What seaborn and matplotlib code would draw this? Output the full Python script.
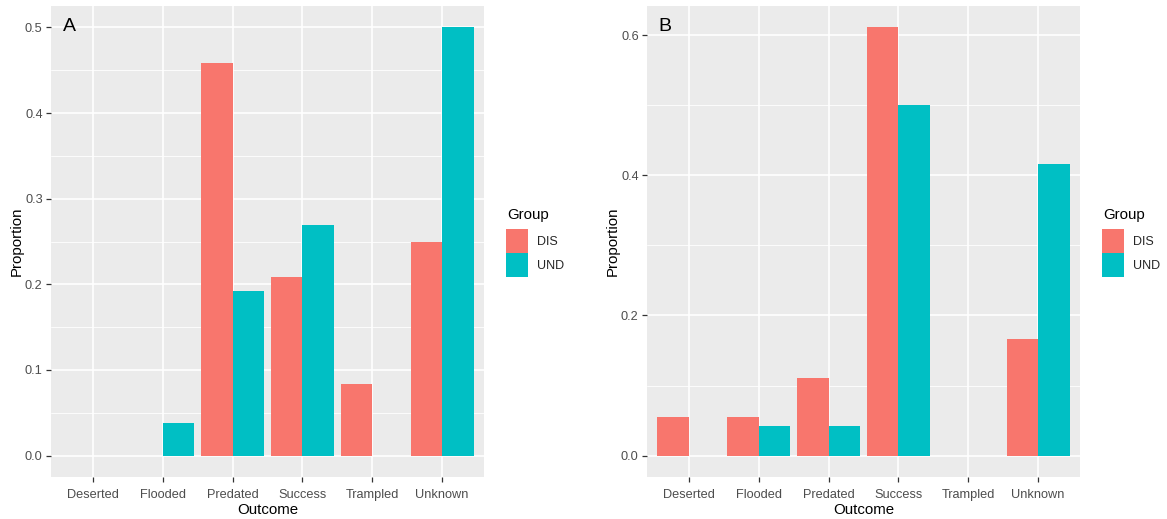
import matplotlib
matplotlib.use("Agg")
import matplotlib.pyplot as plt
from matplotlib.patches import Patch
import numpy as np
import pandas as pd
import seaborn as sns

# Nest outcome proportions by group for two sites
outcomes = ["Deserted", "Flooded", "Predated", "Success", "Trampled", "Unknown"]
groups = ["DIS", "UND"]

site_a_dis = [0.0, 0.0, 11 / 24, 5 / 24, 2 / 24, 6 / 24]
site_a_und = [0.0, 1 / 26, 5 / 26, 7 / 26, 0.0, 13 / 26]

site_b_dis = [1 / 18, 1 / 18, 2 / 18, 11 / 18, 0.0, 3 / 18]
site_b_und = [0.0, 1 / 24, 1 / 24, 12 / 24, 0.0, 10 / 24]

panel_labels = ["A", "B"]
y_ticks_a = [0.0, 0.1, 0.2, 0.3, 0.4, 0.5]
y_ticks_b = [0.0, 0.2, 0.4, 0.6]

palette = {"DIS": "#F8766D", "UND": "#00BFC4"}


def long_frame(dis, und):
    return pd.DataFrame({
        "Outcome": outcomes * 2,
        "Group": ["DIS"] * len(outcomes) + ["UND"] * len(outcomes),
        "Proportion": list(dis) + list(und),
    })


sns.set_theme(style="white")
plt.rcParams["font.family"] = ["Liberation Sans", "DejaVu Sans"]

W, H = 1167, 519
fig = plt.figure(figsize=(W / 100, H / 100), dpi=100)


def px_axes(left, top, right, bottom):
    return fig.add_axes([left / W, 1 - bottom / H, (right - left) / W, (bottom - top) / H])


ax_a = px_axes(51, 6, 484, 477)
ax_b = px_axes(647, 6, 1080, 477)

panels = [
    (ax_a, long_frame(site_a_dis, site_a_und), y_ticks_a, panel_labels[0], 484),
    (ax_b, long_frame(site_b_dis, site_b_und), y_ticks_b, panel_labels[1], 1080),
]

for ax, df, yticks, label, right_px in panels:
    ax.set_facecolor("#EBEBEB")
    sns.barplot(data=df, x="Outcome", y="Proportion", hue="Group",
                order=outcomes, hue_order=groups, palette=palette,
                saturation=1, width=0.9, gap=0, linewidth=0, errorbar=None,
                legend=False, ax=ax, zorder=3)

    ymax = df["Proportion"].max()
    pad = ymax * 0.05
    lo, hi = -pad, ymax + pad

    ax.set_yticks(yticks)
    ax.set_yticklabels([f"{t:.1f}" for t in yticks])
    step = yticks[1] - yticks[0]
    minor = [t + step / 2 for t in yticks if lo <= t + step / 2 <= hi]
    ax.set_yticks(minor, minor=True)
    ax.set_ylim(lo, hi)
    ax.set_xlim(-0.6, len(outcomes) - 0.4)

    ax.grid(which="major", axis="both", color="white", linewidth=1.2, zorder=0)
    ax.grid(which="minor", axis="y", color="white", linewidth=0.6, zorder=0)
    ax.set_axisbelow(True)

    for s in ax.spines.values():
        s.set_visible(False)

    ax.tick_params(axis="both", which="major", length=3.5, width=0.9,
                   color="#333333", labelcolor="#4D4D4D", labelsize=9.2,
                   left=True, bottom=True)
    ax.tick_params(axis="y", which="major", pad=2.5)
    ax.tick_params(axis="x", which="major", pad=4.8)
    ax.tick_params(axis="y", which="minor", length=0)

    ax.set_xlabel("Outcome", fontsize=10.8, color="black", labelpad=2)
    ax.set_ylabel("Proportion", fontsize=10.8, color="black", labelpad=0.5)

    ax.text(0.027, 0.975, label, transform=ax.transAxes, fontsize=14,
            ha="left", va="top", color="black")

    # legend title placed on its own, keys stacked below it
    fig.text((right_px + 23) / W, 1 - 215 / H, "Group", fontsize=10.8,
             ha="left", va="center", color="black")
    handles = [Patch(facecolor=palette[g], edgecolor="none", label=g) for g in groups]
    ax.legend(handles=handles, loc="upper left",
              bbox_to_anchor=((right_px + 22) / W, 1 - 229 / H),
              bbox_transform=fig.transFigure, frameon=False,
              fontsize=9, handlelength=1.76, handleheight=2.58, labelspacing=0.0,
              handletextpad=0.72, borderpad=0.0, borderaxespad=0.0)

fig.savefig("out.png", dpi=100)
